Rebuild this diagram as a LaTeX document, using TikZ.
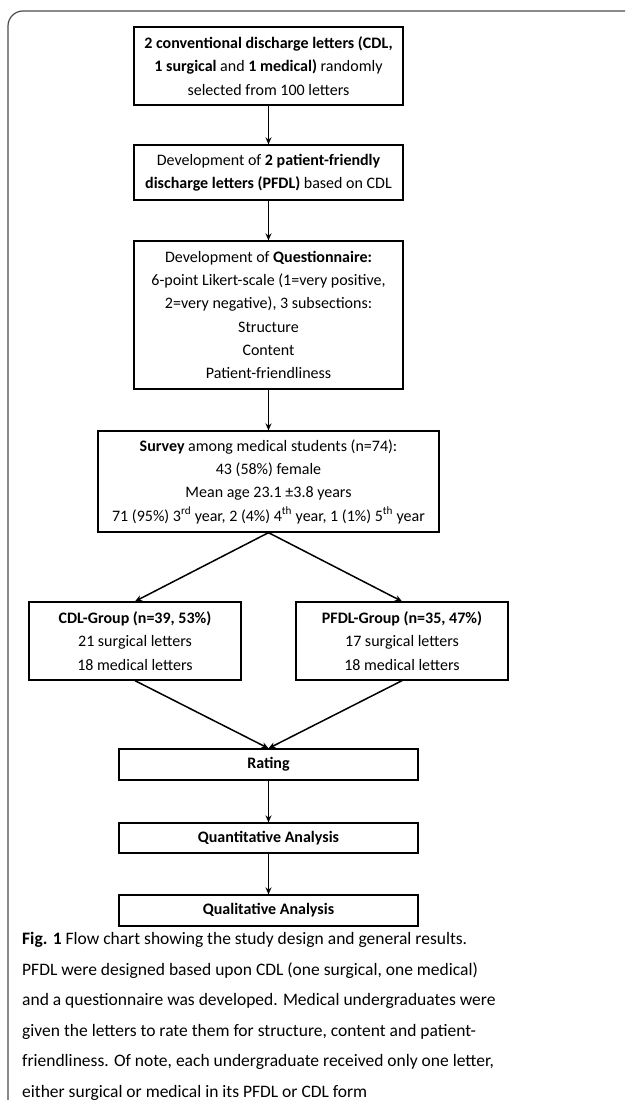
\documentclass[tikz,border=0pt]{standalone}
\usepackage{fontspec}
\setmainfont{Carlito}
\usetikzlibrary{arrows.meta}

\begin{document}
\begin{tikzpicture}[x=1pt, y=-1pt,
    every node/.style={font=\fontsize{16}{23.3}\selectfont},
    box/.style={draw, line width=1.3pt, align=center, inner sep=0pt},
    arr/.style={line width=1.5pt, -{Stealth[length=7pt, width=6pt]}}]
\useasboundingbox (0,0) rectangle (625,1100);
% frame round figure and caption
\draw[line width=1.2pt, black!70, rounded corners=15pt] (625,11) -- (8,11) -- (8,1100);
% main column
\node[box, minimum width=269pt, minimum height=78pt] (cdlsel) at (268.5,66)
    {\textbf{2 conventional discharge letters (CDL,}\\
     \textbf{1 surgical} and \textbf{1 medical)} randomly\\
     selected from 100 letters};
\node[box, minimum width=269pt, minimum height=55pt] (pfdldev) at (268.5,172.5)
    {Development of \textbf{2 patient-friendly}\\
     \textbf{discharge letters (PFDL)} based on CDL};
\node[box, minimum width=269pt, minimum height=148pt] (quest) at (268.5,315)
    {Development of \textbf{Questionnaire:}\\
     6-point Likert-scale (1=very positive,\\
     2=very negative), 3 subsections:\\
     Structure\\ Content\\ Patient-friendliness};
\node[box, minimum width=341pt, minimum height=101pt] (survey) at (268.5,481.5)
    {\textbf{Survey} among medical students (n=74):\\
     43 (58\%) female\\
     Mean age 23.1 ±3.8 years\\
     71 (95\%) 3\textsuperscript{rd} year, 2 (4\%) 4\textsuperscript{th} year, 1 (1\%) 5\textsuperscript{th} year};
% the two groups
\node[box, minimum width=212pt, minimum height=78pt] (cdlgrp) at (135,641)
    {\textbf{CDL-Group (n=39, 53\%)}\\ 21 surgical letters\\ 18 medical letters};
\node[box, minimum width=212pt, minimum height=78pt] (pfdlgrp) at (402,641)
    {\textbf{PFDL-Group (n=35, 47\%)}\\ 17 surgical letters\\ 18 medical letters};
% analysis steps
\node[box, minimum width=299pt, minimum height=31pt] (rating) at (268.5,764.5) {\textbf{Rating}};
\node[box, minimum width=299pt, minimum height=30pt] (quant) at (268.5,838) {\textbf{Quantitative Analysis}};
\node[box, minimum width=299pt, minimum height=31pt] (qual) at (268.5,910.5) {\textbf{Qualitative Analysis}};

\foreach \a/\b in {cdlsel/pfdldev, pfdldev/quest, quest/survey, rating/quant, quant/qual}
    \draw[arr] (\a) -- (\b);
\foreach \g in {cdlgrp, pfdlgrp} {
    \draw[arr] (survey.south) -- (\g.north);
    \draw[arr] (\g.south) -- (rating.north);
}

% caption (base anchor sits on its last line)
\node[anchor=base west, align=left, inner sep=0pt, font=\fontsize{17.5}{30.5}\selectfont] (caption) at (22,1097)
    {\textbf{Fig. 1} Flow chart showing the study design and general results.\\
     PFDL were designed based upon CDL (one surgical, one medical)\\
     and a questionnaire was developed. Medical undergraduates were\\
     given the letters to rate them for structure, content and patient-\\
     friendliness. Of note, each undergraduate received only one letter,\\
     either surgical or medical in its PFDL or CDL form};
\end{tikzpicture}
\end{document}
